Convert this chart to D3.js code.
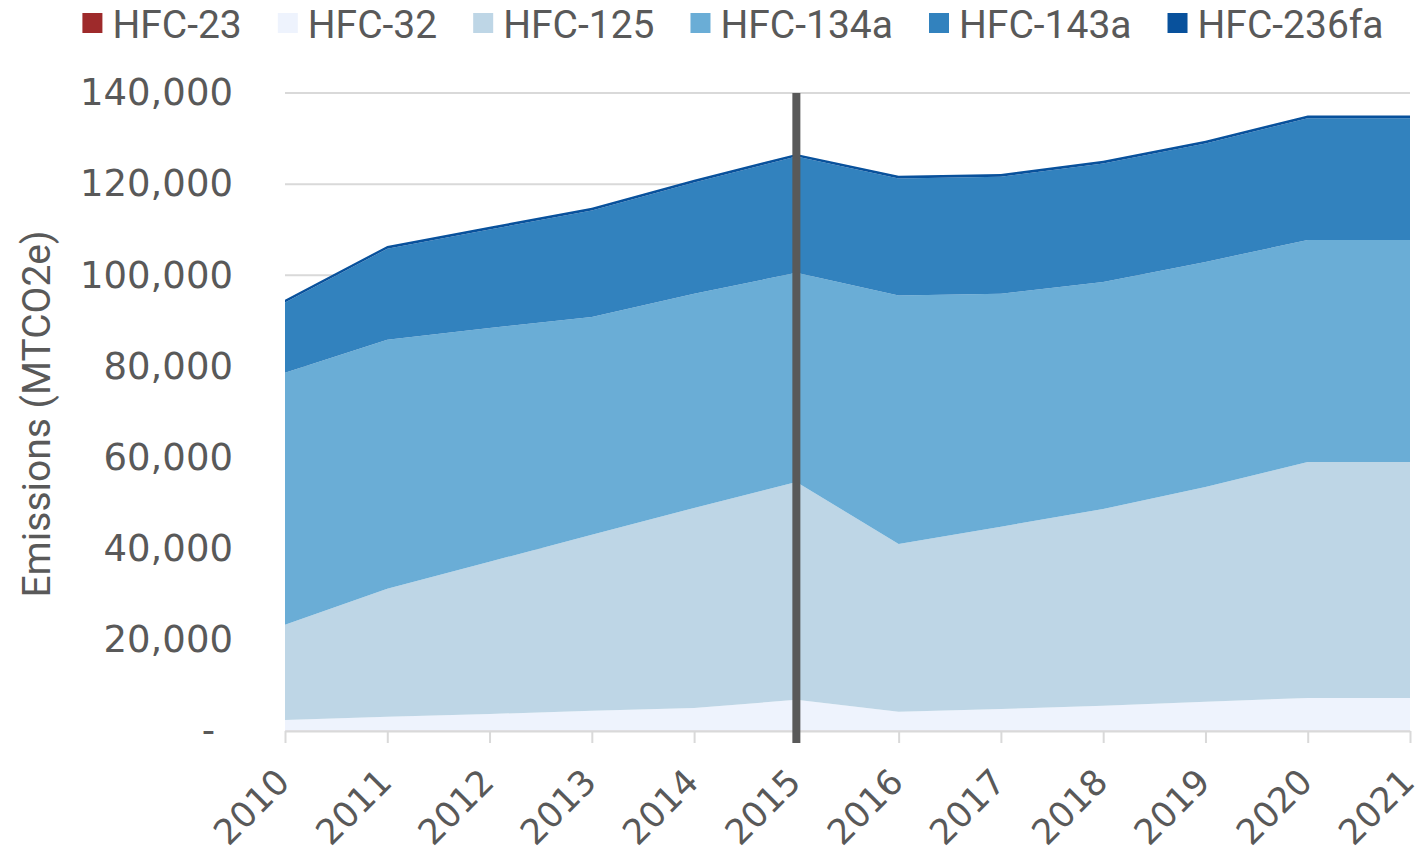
<!DOCTYPE html>
<html>
<head>
	<meta charset="utf-8">
	<title>HFC emissions</title>
	<script type="text/javascript" src="https://cdn.jsdelivr.net/npm/d3@7"></script>
	<style>
		body { margin: 0; background: #fff; }
	</style>
</head>
<body>
	<script type="text/javascript">
		var width = 1422,
			height = 857;

		var years = [2010, 2011, 2012, 2013, 2014, 2015, 2016, 2017, 2018, 2019, 2020, 2021];
		var gases = ['HFC-23', 'HFC-32', 'HFC-125', 'HFC-134a', 'HFC-143a', 'HFC-236fa'];
		var colors = ['#9e2a2b', '#eef3fd', '#bed6e6', '#6aadd6', '#3282be', '#08519c'];

		var hfc23   = [40, 40, 40, 40, 40, 40, 40, 40, 40, 40, 40, 40];
		var hfc32   = [2400, 3100, 3700, 4400, 5000, 6800, 4200, 4800, 5500, 6400, 7200, 7200];
		var hfc125  = [20900, 28100, 33400, 38600, 43900, 47800, 36800, 40000, 43200, 47100, 51800, 51800];
		var hfc134a = [55300, 54600, 51300, 47800, 47000, 45900, 54500, 51100, 49800, 49400, 48700, 48700];
		var hfc143a = [15400, 20000, 21600, 23400, 24400, 25500, 25700, 25700, 26000, 26000, 26700, 26700];
		var hfc236fa = [600, 600, 600, 600, 600, 600, 600, 600, 600, 600, 600, 600];

		var yTicks = [0, 20000, 40000, 60000, 80000, 100000, 120000, 140000];
		var markYear = 2015;

		var series = [hfc23, hfc32, hfc125, hfc134a, hfc143a, hfc236fa];
		var rows = years.map(function(y, i){
			var r = {year : y};
			gases.forEach(function(g, k){ r[g] = series[k][i]; });
			return r;
		});

		var padding = {top : 93, right : 12, bottom : 126, left : 285};

		var svg = d3.select('body')
					.append('svg')
					.attr('width', width)
					.attr('height', height);

		var x = d3.scaleLinear()
				.domain([years[0], years[years.length - 1]])
				.range([padding.left, width - padding.right]);
		var y = d3.scaleLinear()
				.domain([0, 140000])
				.range([height - padding.bottom, padding.top]);

		// grid
		svg.append('g')
			.selectAll('line')
			.data(yTicks)
			.enter()
			.append('line')
			.attr('x1', x.range()[0])
			.attr('x2', x.range()[1])
			.attr('y1', function(d){ return y(d); })
			.attr('y2', function(d){ return y(d); })
			.attr('stroke', '#d9d9d9')
			.attr('stroke-width', 2);

		// stacked areas
		var stack = d3.stack().keys(gases);
		var area = d3.area()
					.x(function(d){ return x(d.data.year); })
					.y0(function(d){ return y(d[0]); })
					.y1(function(d){ return y(d[1]); });

		svg.append('g')
			.selectAll('path')
			.data(stack(rows))
			.enter()
			.append('path')
			.attr('fill', function(d, i){ return colors[i]; })
			.attr('d', area);

		// x axis
		var xAxis = d3.axisBottom(x)
					.tickValues(years)
					.tickFormat(d3.format('d'))
					.tickSize(12)
					.tickSizeOuter(0);
		var gx = svg.append('g')
					.attr('transform', 'translate(0,' + y(0) + ')')
					.call(xAxis);
		gx.select('.domain').attr('stroke', '#d9d9d9').attr('stroke-width', 2);
		gx.selectAll('.tick line').attr('stroke', '#d9d9d9').attr('stroke-width', 2);
		gx.selectAll('.tick text')
			.attr('fill', '#595959')
			.style('font-family', 'DejaVu Sans')
			.style('font-size', '35px')
			.attr('text-anchor', 'end')
			.attr('dy', null)
			.attr('y', 0)
			.attr('transform', 'translate(6,53) rotate(-45)');

		// y axis labels
		var yAxis = d3.axisLeft(y)
					.tickValues(yTicks)
					.tickFormat(function(d){ return d === 0 ? '-' : d3.format(',')(d); })
					.tickSize(0)
					.tickPadding(52);
		var gy = svg.append('g')
					.attr('transform', 'translate(' + padding.left + ',0)')
					.call(yAxis);
		gy.select('.domain').remove();
		gy.selectAll('.tick text')
			.attr('fill', '#595959')
			.style('font-family', 'DejaVu Sans')
			.style('font-size', '37px');
		gy.selectAll('.tick')
			.filter(function(d){ return d === 0; })
			.select('text')
			.attr('dx', -18);

		// 2015 marker
		svg.append('line')
			.attr('x1', x(markYear))
			.attr('x2', x(markYear))
			.attr('y1', y(140000))
			.attr('y2', y(0) + 12)
			.attr('stroke', '#595959')
			.attr('stroke-width', 8);

		// y title
		svg.append('text')
			.attr('transform', 'translate(50,414) rotate(-90)')
			.attr('text-anchor', 'middle')
			.attr('fill', '#595959')
			.style('font-family', 'Roboto')
			.style('font-size', '39px')
			.text('Emissions (MTCO2e)');

		// legend
		var legend = svg.append('g');
		var items = legend.selectAll('g')
						.data(gases)
						.enter()
						.append('g');
		items.append('rect')
			.attr('width', 20)
			.attr('height', 20)
			.attr('y', 13)
			.attr('fill', function(d, i){ return colors[i]; });
		items.append('text')
			.attr('x', 30)
			.attr('y', 38)
			.attr('fill', '#595959')
			.style('font-family', 'Roboto')
			.style('font-size', '39px')
			.text(function(d){ return d; });
		var pos = 0;
		items.each(function(){
			var w = d3.select(this).select('text').node().getComputedTextLength();
			d3.select(this).attr('transform', 'translate(' + pos + ',0)');
			pos += 30 + w + 36;
		});
		legend.attr('transform', 'translate(' + (733 - (pos - 36) / 2) + ',0)');
	</script>
</body>
</html>
